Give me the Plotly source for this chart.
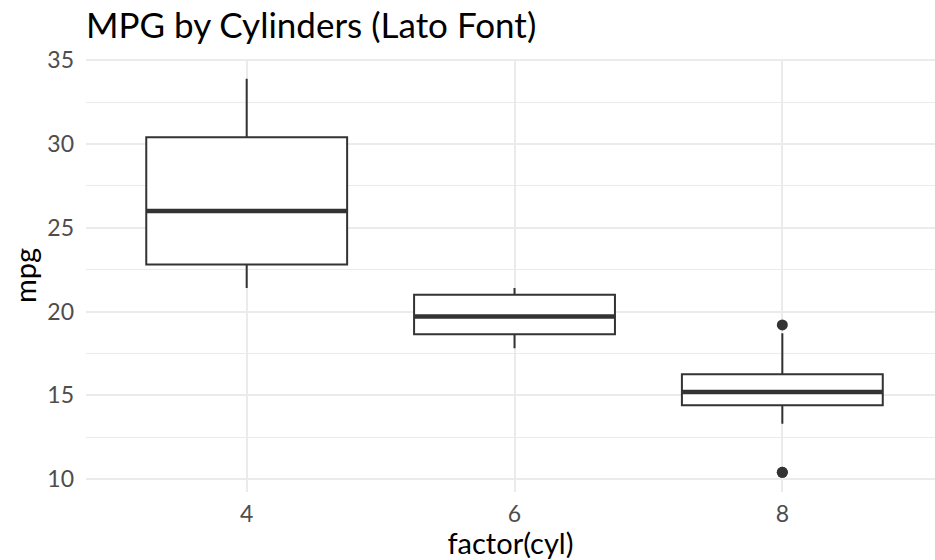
import numpy as np
import plotly.graph_objects as go

categories = ["4", "6", "8"]
mpg_4 = [22.8, 24.4, 22.8, 32.4, 30.4, 33.9, 21.5, 27.3, 26.0, 30.4, 21.4]
mpg_6 = [21.0, 21.0, 21.4, 18.1, 19.2, 17.8, 19.7]
mpg_8 = [18.7, 14.3, 16.4, 17.3, 15.2, 10.4, 10.4, 14.7, 15.5, 15.2, 13.3, 19.2, 15.8, 15.0]
series = [mpg_4, mpg_6, mpg_8]
y_ticks = [10, 15, 20, 25, 30, 35]

FONT = "Lato"
INK = "#333333"
GRID = "#EBEBEB"

fig = go.Figure()
box_w = 0.75
for i, vals in enumerate(series):
    arr = np.array(vals)
    q1, med, q3 = np.percentile(arr, [25, 50, 75])
    iqr = q3 - q1
    lo_f, hi_f = q1 - 1.5 * iqr, q3 + 1.5 * iqr
    inside = arr[(arr >= lo_f) & (arr <= hi_f)]
    outl = arr[(arr < lo_f) | (arr > hi_f)]
    fig.add_trace(go.Box(
        x=[i], q1=[q1], median=[med], q3=[q3],
        lowerfence=[inside.min()], upperfence=[inside.max()],
        width=box_w, whiskerwidth=0, boxpoints=False,
        fillcolor="white", line=dict(color=INK, width=2),
        showlegend=False, hoverinfo="skip",
    ))
    fig.add_trace(go.Scatter(
        x=[i - box_w / 2, i + box_w / 2], y=[med, med], mode="lines",
        line=dict(color=INK, width=4.5), showlegend=False, hoverinfo="skip",
    ))
    if len(outl):
        fig.add_trace(go.Scatter(
            x=[i] * len(outl), y=outl, mode="markers",
            marker=dict(color=INK, size=11), showlegend=False, hoverinfo="skip",
        ))

fig.update_layout(
    width=935, height=560,
    margin=dict(l=86, r=0, t=59, b=68),
    paper_bgcolor="white", plot_bgcolor="white",
    font=dict(family=FONT, color="black"),
    title=dict(text="MPG by Cylinders (Lato Font)", font=dict(family=FONT, size=35, color="black"),
               x=0, xref="paper", xanchor="left", y=1 - 26 / 560, yref="container", yanchor="middle"),
)
fig.update_xaxes(
    range=[-0.6, 2.57], tickmode="array", tickvals=[0, 1, 2], ticktext=categories,
    showgrid=True, gridcolor=GRID, gridwidth=2, zeroline=False, showline=False, automargin=False,
    tickfont=dict(family=FONT, size=23, color="#4D4D4D"), ticklabelstandoff=6,
    title=dict(text="factor(cyl)", font=dict(family=FONT, size=29, color="black"), standoff=8),
)
fig.update_yaxes(
    range=[9.225, 35.075], tickmode="array", tickvals=y_ticks,
    showgrid=True, gridcolor=GRID, gridwidth=2, zeroline=False, showline=False, automargin=False,
    minor=dict(tickmode="array", tickvals=[12.5, 17.5, 22.5, 27.5, 32.5], showgrid=True, gridcolor=GRID, gridwidth=1),
    tickfont=dict(family=FONT, size=23, color="#4D4D4D"), ticklabelstandoff=11,
    title=dict(text="mpg", font=dict(family=FONT, size=29, color="black"), standoff=2),
)
fig.write_html("out.html", config={"displayModeBar": False},
               post_script="document.body.style.margin='0';document.body.style.overflow='hidden';")
